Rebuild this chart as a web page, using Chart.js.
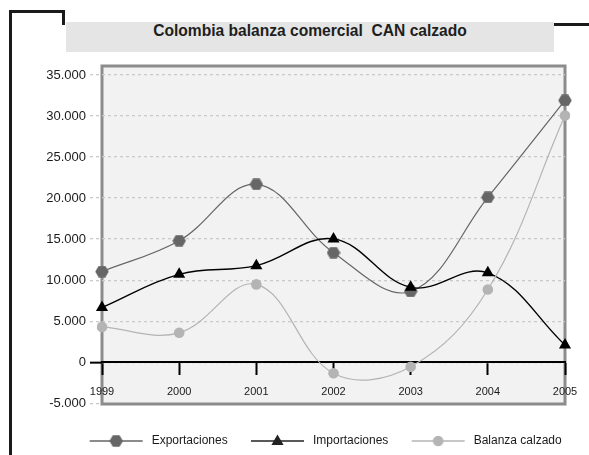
<!DOCTYPE html>
<html>
<head>
<meta charset="utf-8">
<script src="https://cdn.jsdelivr.net/npm/chart.js@4"></script>
<style>
    html, body { margin: 0; padding: 0; background: #fff; }
    #page { position: relative; width: 589px; height: 455px; overflow: hidden; }
    .frame { position: absolute; background: #1a1a1a; }
    #title {
        position: absolute; left: 66px; top: 22px; width: 488px; height: 30px;
        background: #e5e5e5; color: #1e1e1e; text-align: center; line-height: 30px;
        font: bold 15.6px "Liberation Sans", Arial, sans-serif;
    }
    #chart { position: absolute; left: 0; top: 0; }
</style>
</head>
<body>
<div id="page">
    <div class="frame" style="left:9px; top:10px; width:3px; height:450px;"></div>
    <div class="frame" style="left:9px; top:10px; width:56px; height:3px;"></div>
    <div class="frame" style="left:62px; top:10px; width:3px; height:15px;"></div>
    <div class="frame" style="left:554px; top:23px; width:35px; height:3px;"></div>
    <div id="title">Colombia balanza comercial&nbsp; CAN calzado</div>
    <canvas id="chart" width="589" height="455"></canvas>
</div>
<script>
const years = ['1999', '2000', '2001', '2002', '2003', '2004', '2005'];
const exportaciones = [11050, 14800, 21680, 13350, 8630, 20090, 31900];
const importaciones = [6680, 10710, 11770, 15030, 9130, 10900, 2100];
const balanza = [4310, 3590, 9490, -1340, -540, 8860, 30050];
const yTicks = [-5000, 0, 5000, 10000, 15000, 20000, 25000, 30000, 35000];

const EXP_COLOR = '#666666';
const IMP_COLOR = '#000000';
const BAL_COLOR = '#b4b4b4';

// legend icon: blank lead-in, then the line sample, then a small gap
const ICON_LEAD = 20;
const ICON_LINE = 53;
const ICON_WIDTH = ICON_LEAD + ICON_LINE + 3;

Chart.defaults.font.family = '"Liberation Sans", Arial, sans-serif';
Chart.defaults.color = '#1a1a1a';

/**
 * hexagon marker path
 */
function drawHexagon(ctx, cx, cy, w, h, color) {
    ctx.beginPath();
    ctx.moveTo(cx - w / 2, cy);
    ctx.lineTo(cx - w / 4, cy - h / 2);
    ctx.lineTo(cx + w / 4, cy - h / 2);
    ctx.lineTo(cx + w / 2, cy);
    ctx.lineTo(cx + w / 4, cy + h / 2);
    ctx.lineTo(cx - w / 4, cy + h / 2);
    ctx.closePath();
    ctx.fillStyle = color;
    ctx.fill();
}

function makeHexagon() {
    const c = document.createElement('canvas');
    c.width = 14;
    c.height = 12;
    drawHexagon(c.getContext('2d'), 7, 6, 13.5, 11.5, EXP_COLOR);
    return c;
}

/**
 * legend icon: short line with the marker in the middle
 */
function makeLegendIcon(kind, color) {
    const c = document.createElement('canvas');
    c.width = ICON_WIDTH;
    c.height = 14;
    const ctx = c.getContext('2d');
    const mid = ICON_LEAD + ICON_LINE / 2;
    ctx.strokeStyle = color;
    ctx.lineWidth = 1.5;
    ctx.beginPath();
    ctx.moveTo(ICON_LEAD, 7);
    ctx.lineTo(ICON_LEAD + ICON_LINE, 7);
    ctx.stroke();
    if (kind === 'hex') {
        drawHexagon(ctx, mid, 7, 13.5, 11.5, color);
    } else if (kind === 'tri') {
        ctx.beginPath();
        ctx.moveTo(mid, 0.5);
        ctx.lineTo(mid + 6.1, 11);
        ctx.lineTo(mid - 6.1, 11);
        ctx.closePath();
        ctx.fillStyle = color;
        ctx.fill();
    } else {
        ctx.beginPath();
        ctx.arc(mid, 7, 5.3, 0, Math.PI * 2);
        ctx.fillStyle = color;
        ctx.fill();
    }
    return c;
}

const legendIcons = [
    makeLegendIcon('hex', EXP_COLOR),
    makeLegendIcon('tri', '#222222'),
    makeLegendIcon('circle', BAL_COLOR)
];

function formatThousands(v) {
    return String(v).replace(/\B(?=(\d{3})+(?!\d))/g, '.');
}

// plot background and grey frame
const plotBackground = {
    id: 'plotBackground',
    beforeDraw(chart) {
        const {ctx, chartArea: a} = chart;
        ctx.save();
        ctx.fillStyle = '#f2f2f2';
        ctx.fillRect(a.left, a.top, a.right - a.left, a.bottom - a.top);
        ctx.strokeStyle = '#8c8c8c';
        ctx.lineWidth = 3;
        ctx.strokeRect(a.left, a.top, a.right - a.left, a.bottom - a.top);
        ctx.restore();
    }
};

const data = {
    labels: years,
    datasets: [{
        label: 'Exportaciones',
        data: exportaciones,
        borderColor: EXP_COLOR,
        borderWidth: 1.2,
        pointStyle: makeHexagon(),
        pointRadius: 6,
        tension: 0.38,
        order: 3
    }, {
        label: 'Importaciones',
        data: importaciones,
        borderColor: IMP_COLOR,
        borderWidth: 1.4,
        pointStyle: 'triangle',
        pointRadius: 7,
        pointBackgroundColor: IMP_COLOR,
        pointBorderColor: IMP_COLOR,
        pointBorderWidth: 0,
        tension: 0.38,
        order: 2
    }, {
        label: 'Balanza calzado',
        data: balanza,
        borderColor: BAL_COLOR,
        borderWidth: 1.2,
        pointStyle: 'circle',
        pointRadius: 5.3,
        pointBackgroundColor: BAL_COLOR,
        pointBorderColor: BAL_COLOR,
        pointBorderWidth: 0,
        tension: 0.38,
        order: 1
    }]
};

const config = {
    type: 'line',
    data: data,
    options: {
        responsive: false,
        animation: false,
        devicePixelRatio: 1,
        layout: {
            padding: { left: 20, right: 24, top: 66, bottom: -2 }
        },
        plugins: {
            legend: {
                position: 'bottom',
                align: 'end',
                title: {
                    display: true,
                    text: '',
                    padding: 0,
                    font: { size: 27.7, lineHeight: 1 }
                },
                labels: {
                    usePointStyle: true,
                    pointStyleWidth: ICON_WIDTH,
                    padding: 3.3,
                    color: '#1e1e1e',
                    font: { size: 12 },
                    generateLabels: (chart) => chart.data.datasets.map((ds, i) => ({
                        text: ds.label,
                        pointStyle: legendIcons[i],
                        datasetIndex: i,
                        lineWidth: 0,
                        hidden: false
                    }))
                }
            },
            tooltip: { enabled: false }
        },
        scales: {
            x: {
                type: 'category',
                offset: false,
                position: { y: 0 },
                grid: {
                    drawOnChartArea: false,
                    drawTicks: true,
                    tickLength: 12,
                    tickColor: '#000',
                    tickWidth: 2
                },
                border: { display: true, color: '#000', width: 2 },
                ticks: {
                    autoSkip: false,
                    maxRotation: 0,
                    padding: 11,
                    color: '#1a1a1a',
                    font: { size: 11 }
                }
            },
            y: {
                min: -5080,
                max: 36090,
                afterBuildTicks: (scale) => {
                    scale.ticks = yTicks.map(v => ({ value: v }));
                },
                afterFit: (scale) => {
                    scale.width = 82;
                },
                grid: {
                    color: (ctx) => ctx.tick && ctx.tick.value === yTicks[0] ? 'rgba(0,0,0,0)' : '#cacaca',
                    lineWidth: 1.3,
                    tickLength: 12,
                    tickColor: (ctx) => ctx.tick && ctx.tick.value === 0 ? '#000' : '#cacaca',
                    tickWidth: (ctx) => ctx.tick && ctx.tick.value === 0 ? 2 : 1.3,
                    tickBorderDash: (ctx) => ctx.tick && ctx.tick.value === 0 ? [] : [3, 3]
                },
                border: { display: false, dash: [3, 3] },
                ticks: {
                    padding: 4,
                    color: '#1a1a1a',
                    font: { size: 13 },
                    callback: (v) => formatThousands(v)
                }
            }
        }
    },
    plugins: [plotBackground]
};

new Chart(document.getElementById('chart'), config);
</script>
</body>
</html>
